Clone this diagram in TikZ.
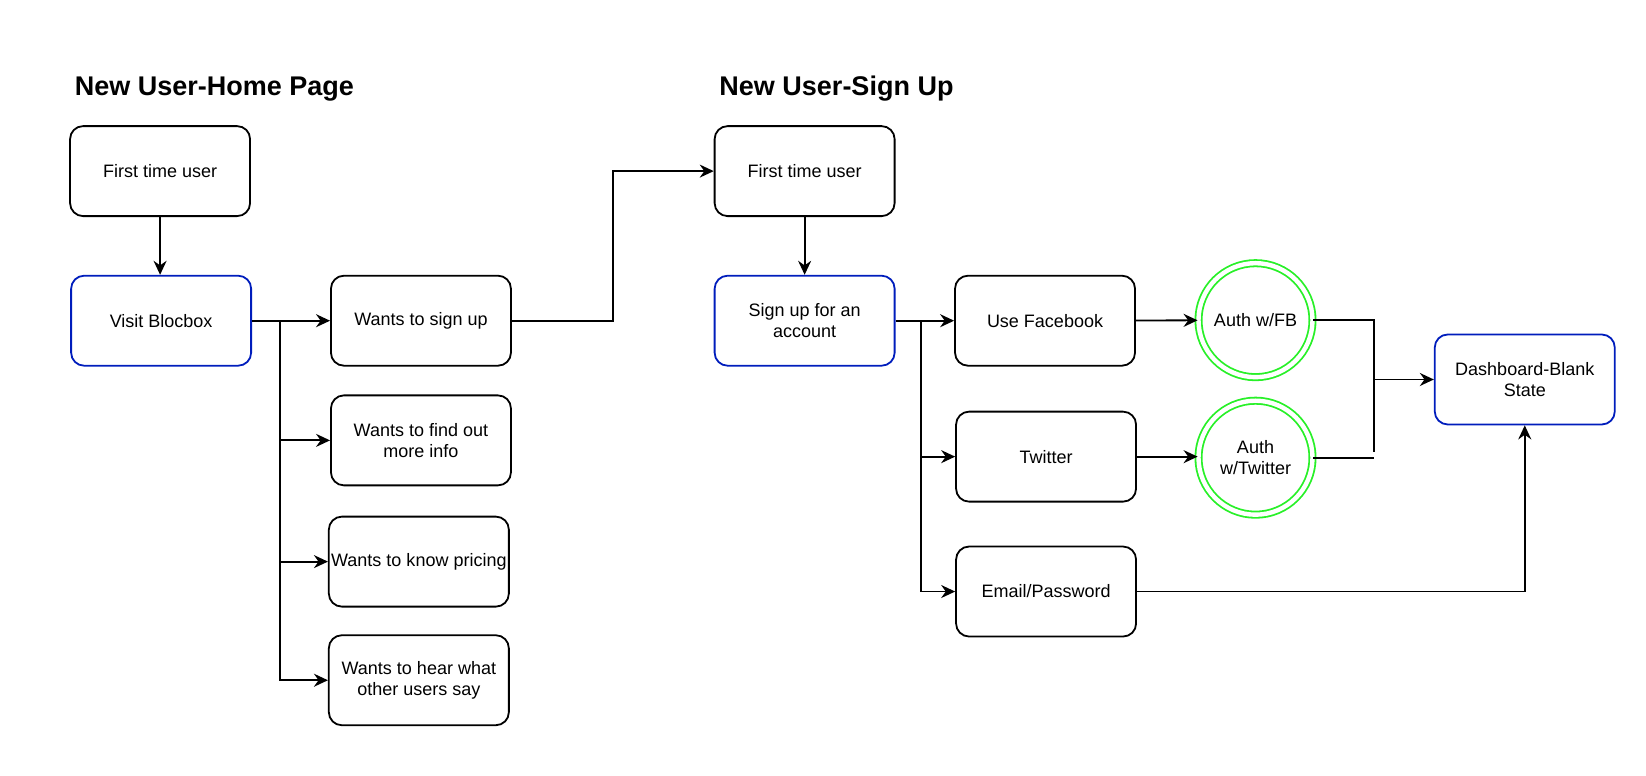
\documentclass[tikz,border=0pt]{standalone}
\usepackage{fontspec}
\setmainfont{Liberation Sans}
\usetikzlibrary{arrows.meta}
\definecolor{boxblue}{RGB}{0,29,188}
\definecolor{authgreen}{RGB}{40,240,40}
\begin{document}
\begin{tikzpicture}[x=0.52486pt,y=-0.52486pt,
  box/.style={draw, line width=0.9pt, rounded corners=6.5pt, minimum width=90pt,
    minimum height=45pt, align=center, inner sep=1pt,
    font=\fontsize{9}{10.5}\selectfont},
  keybox/.style={box, draw=boxblue},
  auth/.style={circle, draw=authgreen, line width=0.9pt, double=white,
    double distance=2.2pt, minimum size=57pt, align=center, inner sep=0pt,
    font=\fontsize{9}{10.5}\selectfont},
  heading/.style={anchor=base west, inner sep=0pt,
    font=\bfseries\fontsize{13.5}{16}\selectfont},
  flow/.style={line width=0.9pt, -{Stealth[length=7pt,width=6.5pt,inset=2.3pt]}},
  link/.style={line width=0.9pt}]
\useasboundingbox (0,0) rectangle (1568,739);

% headings
\node[heading] (t1) at (71,91) {New User-Home Page};
\node[heading] (t2) at (685,91) {New User-Sign Up};

% home page flow
\node[box]    (ftu1)   at (152.5,163)   {First time user};
\node[keybox] (visit)  at (153.5,305.5) {Visit Blocbox};
\node[box]    (wsign)  at (401,305.5)   {Wants to sign up};
\node[box]    (winfo)  at (401,419.5)   {Wants to find out\\more info};
\node[box]    (wprice) at (399,535)     {Wants to know pricing};
\node[box]    (whear)  at (399,648)     {Wants to hear what\\other users say};

% sign up flow
\node[box]    (ftu2)   at (766.5,163)   {First time user};
\node[keybox] (signup) at (766.5,305.5) {Sign up for an\\account};
\node[box]    (fb)     at (995.5,305.5) {Use Facebook};
\node[box]    (tw)     at (996.5,435)   {Twitter};
\node[box]    (mail)   at (996.5,563.5) {Email/Password};
\node[auth]   (afb)    at (1196,305)    {Auth w/FB};
\node[auth]   (atw)    at (1196,436)    {Auth\\w/Twitter};
\node[keybox] (dash)   at (1452.5,361.5) {Dashboard-Blank\\State};

% branch points
\coordinate (lb) at (267,305.5);
\coordinate (rb) at (877,305.5);
\coordinate (jx) at (1309,431);

% connectors, home page
\draw[flow] (ftu1.south) -- (ftu1.south |- visit.north);
\draw[flow] (visit) -- (wsign);
\draw[link] (lb) -- (lb |- whear.west);
\draw[flow] (lb) |- (winfo.west);
\draw[flow] (lb) |- (wprice.west);
\draw[flow] (lb) |- (whear.west);
\draw[flow] (wsign.east) -- ++(96,0) |- (ftu2.west);

% connectors, sign up
\draw[flow] (ftu2) -- (signup);
\draw[flow] (signup) -- (fb);
\draw[link] (rb) -- (rb |- mail.west);
\draw[flow] (rb) |- (tw.west);
\draw[flow] (rb) |- (mail.west);
\draw[flow] (fb) -- (afb);
\draw[flow] (tw.east) -- (tw.east -| atw.west);
\draw[link] (afb.east) -| (jx);
\draw[link] (atw.east) -- (atw.east -| jx);
\draw[flow] (jx |- dash.west) -- (dash.west);
\draw[flow] (mail.east) -| (dash.south);
\end{tikzpicture}
\end{document}
